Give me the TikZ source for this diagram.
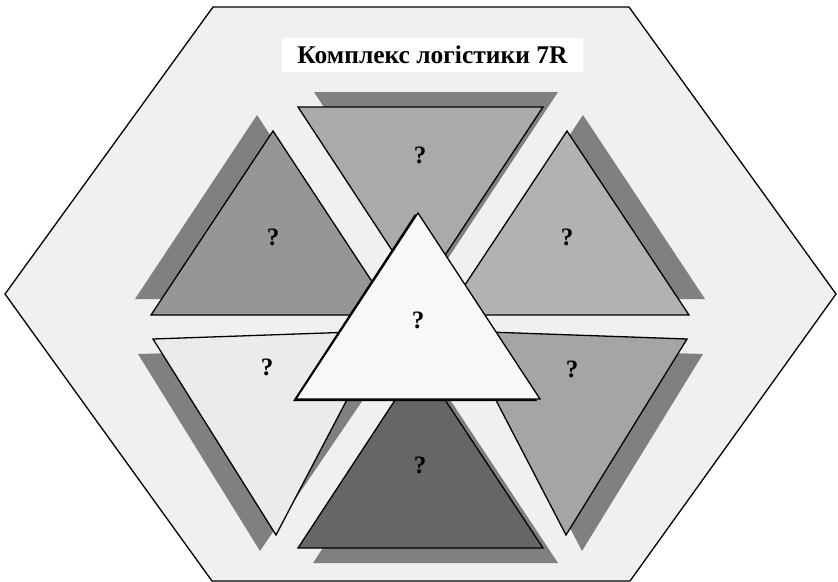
\documentclass[tikz,border=0pt]{standalone}
\usepackage{fontspec}
\setmainfont{Liberation Serif}
\definecolor{hexfill}{HTML}{F0F0F0}
\definecolor{shadowgray}{HTML}{808080}
\definecolor{ctop}{HTML}{AAAAAA}
\definecolor{cul}{HTML}{969696}
\definecolor{cur}{HTML}{B2B2B2}
\definecolor{cll}{HTML}{EBEBEB}
\definecolor{clr}{HTML}{A5A5A5}
\definecolor{cbot}{HTML}{666666}
\definecolor{ccen}{HTML}{F8F8F8}
\begin{document}
\begin{tikzpicture}[x=1pt,y=-1pt,
  hexa/.style={draw=black,line width=1.3pt,fill=hexfill,line join=miter},
  tri/.style={draw=black,line width=1.3pt,line join=miter},
  shad/.style={fill=shadowgray},
  qmark/.style={font=\fontsize{25}{27}\selectfont\bfseries,inner sep=0pt},
  titlebox/.style={fill=white,minimum width=301pt,minimum height=34pt,inner sep=0pt,font=\fontsize{25.5}{28}\selectfont\bfseries}]
\useasboundingbox (0,0) rectangle (838,581);
% hexagon
\draw[hexa] (213,7) -- (629,7) -- (836,294) -- (630,581) -- (212,581) -- (5,294) -- cycle;
% title
\node[titlebox] (title) at (432.5,55) {Комплекс логістики 7R};
% upper-left
\fill[shad] (257,115) -- (378,299) -- (135,299) -- cycle;
\draw[tri,fill=cul] (273,131) -- (394,315) -- (151,315) -- cycle;
% upper-right
\fill[shad] (583,115) -- (705,299) -- (461,299) -- cycle;
\draw[tri,fill=cur] (567,131) -- (689,315) -- (445,315) -- cycle;
% lower-left
\fill[shad] (138,354) -- (399,347) -- (260,551) -- cycle;
\draw[tri,fill=cll] (153,339) -- (383,331) -- (276,535) -- cycle;
% lower-right
\fill[shad] (703,354) -- (476,347) -- (582,551) -- cycle;
\draw[tri,fill=clr] (687,339) -- (460,331) -- (566,535) -- cycle;
% top
\fill[shad] (314,92) -- (558,92) -- (435,278) -- cycle;
\draw[tri,fill=ctop] (298,107) -- (543,107) -- (420,293) -- cycle;
% bottom
\fill[shad] (313,563) -- (558,563) -- (435,377) -- cycle;
\draw[tri,fill=cbot] (298,548) -- (543,548) -- (420,362) -- cycle;
% centre
\fill[black] (415,214) -- (537,401) -- (293,401) -- cycle;
\draw[tri,fill=ccen] (418,213) -- (540,399) -- (296,399) -- cycle;
% labels
\node[qmark] (qtop) at (420,155) {?};
\node[qmark] (qul) at (273,237) {?};
\node[qmark] (qur) at (567,237) {?};
\node[qmark] (qcen) at (418,320) {?};
\node[qmark] (qll) at (267,367) {?};
\node[qmark] (qlr) at (572,369) {?};
\node[qmark] (qbot) at (420,465) {?};
\end{tikzpicture}
\end{document}
